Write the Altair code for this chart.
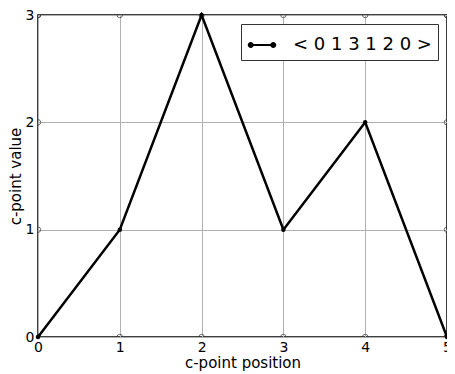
import altair as alt
import pandas as pd

positions = [0, 1, 2, 3, 4, 5]
values = [0, 1, 3, 1, 2, 0]
series_label = "< 0 1 3 1 2 0 >"
x_ticks = [0, 1, 2, 3, 4, 5]
y_ticks = [0, 1, 2, 3]

df = pd.DataFrame({"pos": positions, "val": values, "s": [series_label] * len(positions)})

tick_rows = []
for x in x_ticks:
    tick_rows.append({"pos": x, "val": 0})
    tick_rows.append({"pos": x, "val": 3})
for y in y_ticks:
    tick_rows.append({"pos": 0, "val": y})
    tick_rows.append({"pos": 5, "val": y})
ticks_df = pd.DataFrame(tick_rows)

font = "DejaVu Sans"

xscale = alt.Scale(domain=[0, 5], nice=False, zero=False)
yscale = alt.Scale(domain=[0, 3], nice=False, zero=False)

xaxis = alt.Axis(values=x_ticks, format="d", title="c-point position", grid=True, gridColor="#b0b0b0",
                 gridWidth=1, ticks=False, domain=False, labelFont=font, labelFontSize=14,
                 labelColor="black", labelPadding=3, titleFont=font, titleFontSize=15,
                 titleFontWeight="normal", titleColor="black", titlePadding=1, labelFlush=False)
yaxis = alt.Axis(values=y_ticks, format="d", title="c-point value", grid=True, gridColor="#b0b0b0",
                 gridWidth=1, ticks=False, domain=False, labelFont=font, labelFontSize=14,
                 labelColor="black", labelPadding=4, titleFont=font, titleFontSize=15,
                 titleFontWeight="normal", titleColor="black", titlePadding=2, labelFlush=False)

symbol_path = ("M-0.75,-0.06 L0.75,-0.06 L0.75,0.06 L-0.75,0.06 Z "
               "M-0.75,-0.2 A0.2,0.2 0 1,1 -0.75,0.2 A0.2,0.2 0 1,1 -0.75,-0.2 Z "
               "M0.75,-0.2 A0.2,0.2 0 1,1 0.75,0.2 A0.2,0.2 0 1,1 0.75,-0.2 Z")

line = alt.Chart(df).mark_line(strokeWidth=2.5, point=alt.OverlayMarkDef(filled=True, size=20, color="black")).encode(
    x=alt.X("pos:Q", scale=xscale, axis=xaxis),
    y=alt.Y("val:Q", scale=yscale, axis=yaxis),
    color=alt.Color("s:N", scale=alt.Scale(domain=[series_label], range=["black"]),
                    legend=alt.Legend(title=None, orient="top-right", symbolType=symbol_path,
                                      symbolSize=900, symbolFillColor="black", symbolStrokeWidth=0,
                                      labelFont=font, labelFontSize=18, labelColor="black",
                                      strokeColor="#333333", fillColor="white", padding=6,
                                      offset=9, cornerRadius=0, labelOffset=16)),
)

tick_marks = alt.Chart(ticks_df).mark_point(size=30, filled=False, color="#333333", strokeWidth=1, clip=True).encode(
    x=alt.X("pos:Q", scale=xscale),
    y=alt.Y("val:Q", scale=yscale),
)

chart = alt.layer(tick_marks, line).properties(
    width=409, height=322,
    autosize=alt.AutoSizeParams(type="none"),
    padding={"left": 30, "top": 7, "right": 0, "bottom": 37},
).configure_view(stroke="black", strokeWidth=1.5)

chart.save("out.html", embed_options={"renderer": "svg", "actions": False})
